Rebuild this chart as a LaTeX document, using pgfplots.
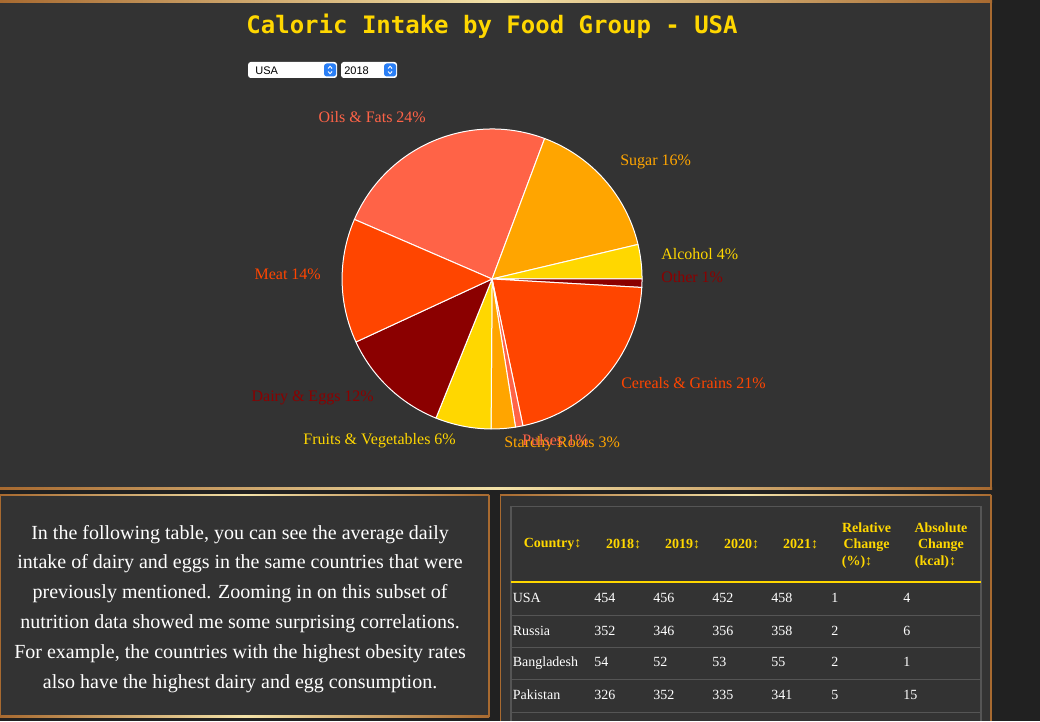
\documentclass[border=0pt]{standalone}
\usepackage{pgfplots}
\pgfplotsset{compat=1.18}
\usepackage{pgfplotstable}
\usepackage{fontspec}
\setmainfont{Liberation Serif}
\newfontfamily\titlefont{DejaVu Sans Mono}
\newfontfamily\uifont{Liberation Sans}
\definecolor{cTomato}{HTML}{FF6347}
\definecolor{cOrange}{HTML}{FFA500}
\definecolor{cGold}{HTML}{FFD700}
\definecolor{cDarkred}{HTML}{8B0000}
\definecolor{cOrangered}{HTML}{FF4500}
\definecolor{pagebg}{HTML}{212121}
\definecolor{panelbg}{HTML}{333333}
\definecolor{copper}{HTML}{A86A30}
\definecolor{paleGold}{HTML}{F3E2A8}
\definecolor{tline}{HTML}{555555}
\definecolor{btnblue}{HTML}{2A7FF6}

\pgfplotstableread[col sep=comma]{
share,color
24.2,cTomato
15.6,cOrange
3.7,cGold
0.9,cDarkred
20.8,cOrangered
0.8,cTomato
2.6,cOrange
6.0,cGold
12.0,cDarkred
13.4,cOrangered
}\piedata

\begin{document}
\begin{tikzpicture}
% cumulative slice angles from the table (clockwise, start at 156.6 deg)
\xdef\pieacc{156.6}
\foreach \i in {0,...,9}{%
  \pgfplotstablegetelem{\i}{share}\of\piedata
  \pgfmathsetmacro\sh{\pgfplotsretval}%
  \pgfplotstablegetelem{\i}{color}\of\piedata
  \expandafter\xdef\csname pieC\i\endcsname{\pgfplotsretval}%
  \pgfmathsetmacro\endang{\pieacc-3.6*\sh}%
  \expandafter\xdef\csname pieA\i\endcsname{\pieacc}%
  \expandafter\xdef\csname pieB\i\endcsname{\endang}%
  \xdef\pieacc{\endang}%
}
\begin{axis}[width=780pt,height=540.75pt,scale only axis,
  xmin=0,xmax=1040,ymin=0,ymax=721,y dir=reverse,hide axis,clip=false]
\addplot[draw=none] coordinates {(0,0) (1040,721)};
% backgrounds
\fill[pagebg] (0,0) rectangle (1040,721);
\fill[panelbg] (0,0) rectangle (991,489);
\fill[copper] (990,0) rectangle (992,489);
\shade[left color=copper,right color=copper,middle color=paleGold] (0,0.3) rectangle (992,2);
\shade[left color=copper,right color=copper,middle color=paleGold] (0,488) rectangle (992,489.5);
% bottom-left box
\fill[panelbg] (0,495) rectangle (489,717);
\draw[copper,line width=0.9pt] (0.5,495.5) rectangle (489,716.5);
\shade[left color=copper,right color=copper,middle color=paleGold] (0,494.5) rectangle (489,496);
\shade[left color=copper,right color=copper,middle color=paleGold] (0,716) rectangle (489,717.5);
% bottom-right box
\fill[panelbg] (500,495) rectangle (991,721);
\draw[copper,line width=0.9pt] (500.5,721) -- (500.5,495.5) -- (991,495.5) -- (991,721);
\shade[left color=copper,right color=copper,middle color=paleGold] (500,494.5) rectangle (991,496);
% table frame
\draw[tline,line width=0.9pt] (511,721) -- (511,506.5) -- (981,506.5) -- (981,721);
\pgfplotsinvokeforeach{615.7,647.5,679.5,712.5}{\draw[tline,line width=0.9pt] (511,#1) -- (981,#1);}
\fill[cGold] (511,581) rectangle (981,583.5);

% title
\node[font=\titlefont\bfseries\fontsize{18}{20}\selectfont,text=cGold] at (492,26) {Caloric Intake by Food Group - USA};
% dropdowns
\fill[white,rounded corners=2pt] (248,62) rectangle (337,78);
\fill[btnblue,rounded corners=2pt] (324,63.5) rectangle (336,76.5);
\draw[white,line width=0.7pt] (328,68.5) -- (330,66.3) -- (332,68.5);
\draw[white,line width=0.7pt] (328,71.5) -- (330,73.7) -- (332,71.5);
\node[anchor=west,inner sep=0pt,font=\uifont\fontsize{8.25}{9}\selectfont] at (255,70.3) {USA};
\fill[white,rounded corners=2pt] (341,62) rectangle (397,78);
\fill[btnblue,rounded corners=2pt] (384,63.5) rectangle (396,76.5);
\draw[white,line width=0.7pt] (388,68.5) -- (390,66.3) -- (392,68.5);
\draw[white,line width=0.7pt] (388,71.5) -- (390,73.7) -- (392,71.5);
\node[anchor=west,inner sep=0pt,font=\uifont\fontsize{8.25}{9}\selectfont] at (344,70.3) {2018};

% pie slices
\pgfplotsinvokeforeach{0,...,9}{%
  \edef\tmp{\noexpand\filldraw[fill=\csname pieC#1\endcsname,draw=white,line width=0.75pt,line join=round]
    (axis cs:492,279) -- ++(\csname pieA#1\endcsname:112.5pt)
    arc[start angle=\csname pieA#1\endcsname,end angle=\csname pieB#1\endcsname,radius=112.5pt] -- cycle;}%
  \tmp
}

% pie labels
\begin{scope}[every node/.style={inner sep=0pt,font=\fontsize{12}{14}\selectfont}]
\node[anchor=mid east,text=cTomato] at (426,119) {Oils \& Fats 24\%};
\node[anchor=mid west,text=cOrange] at (620,162) {Sugar 16\%};
\node[anchor=mid west,text=cGold] at (661,256) {Alcohol 4\%};
\node[anchor=mid west,text=cDarkred] at (661,279.5) {Other 1\%};
\node[anchor=mid west,text=cOrangered] at (621,385.5) {Cereals \& Grains 21\%};
\node[anchor=mid west,text=cOrange] at (504,444.5) {Starchy Roots 3\%};
\node[anchor=mid west,text=cTomato] at (522,442.5) {Pulses 1\%};
\node[anchor=mid east,text=cGold] at (456,441.5) {Fruits \& Vegetables 6\%};
\node[anchor=mid east,text=cDarkred] at (374,398) {Dairy \& Eggs 12\%};
\node[anchor=mid east,text=cOrangered] at (321,276.5) {Meat 14\%};
\end{scope}

% paragraph
\begin{scope}[every node/.style={anchor=base,inner sep=0pt,text=white,font=\fontsize{15}{18}\selectfont}]
\node at (240,539.5) {In the following table, you can see the average daily};
\node at (240,568.5) {intake of dairy and eggs in the same countries that were};
\node at (240,598.5) {previously mentioned. Zooming in on this subset of};
\node at (240,628.5) {nutrition data showed me some surprising correlations.};
\node at (240,658.5) {For example, the countries with the highest obesity rates};
\node at (240,688.5) {also have the highest dairy and egg consumption.};
\end{scope}

% table header
\begin{scope}[every node/.style={inner sep=0pt,text=cGold,font=\bfseries\fontsize{10.5}{12}\selectfont}]
\node at (552.5,544) {Country↕};
\node at (623.5,544) {2018↕};
\node at (682.5,544) {2019↕};
\node at (741.5,544) {2020↕};
\node at (800.5,544) {2021↕};
\node at (866.5,528) {Relative};
\node at (866.5,545) {Change};
\node[anchor=west] at (841.6,562) {(\%)↕};
\node at (941,528) {Absolute};
\node at (941,545) {Change};
\node[anchor=west] at (914.6,562) {(kcal)↕};
\end{scope}
% table body
\begin{scope}[every node/.style={anchor=mid west,inner sep=0pt,text=white,font=\fontsize{10.5}{12}\selectfont}]
\node at (512.5,599.5) {USA};        \node at (594,599.5) {454}; \node at (653,599.5) {456}; \node at (712,599.5) {452}; \node at (771,599.5) {458}; \node at (831,599.5) {1}; \node at (903,599.5) {4};
\node at (512.5,632) {Russia};       \node at (594,632) {352}; \node at (653,632) {346}; \node at (712,632) {356}; \node at (771,632) {358}; \node at (831,632) {2}; \node at (903,632) {6};
\node at (512.5,663.5) {Bangladesh}; \node at (594,663.5) {54};  \node at (653,663.5) {52};  \node at (712,663.5) {53};  \node at (771,663.5) {55};  \node at (831,663.5) {2}; \node at (903,663.5) {1};
\node at (512.5,696) {Pakistan};     \node at (594,696) {326}; \node at (653,696) {352}; \node at (712,696) {335}; \node at (771,696) {341}; \node at (831,696) {5}; \node at (903,696) {15};
\end{scope}
\end{axis}
\end{tikzpicture}
\end{document}
